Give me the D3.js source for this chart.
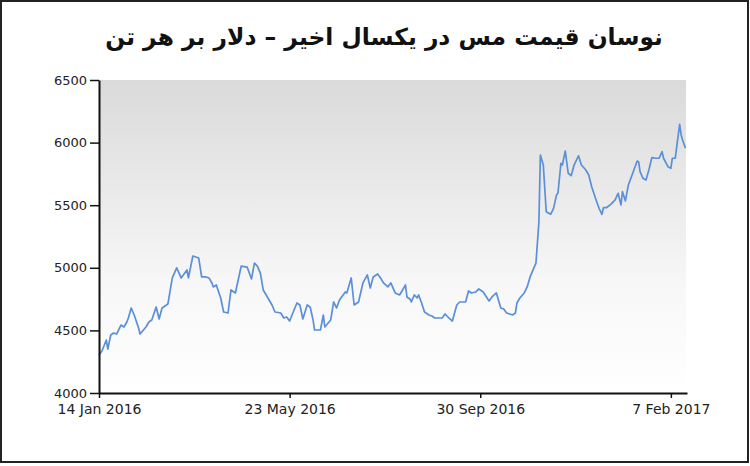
<!DOCTYPE html>
<html><head><meta charset="utf-8">
<script src="https://cdn.jsdelivr.net/npm/d3@7"></script>
<style>html,body{margin:0;padding:0;background:#fff;}svg{display:block;}</style>
</head><body>
<script>
const titleText = "نوسان قیمت مس در یکسال اخیر – دلار بر هر تن";
const dates = ["2016-01-14","2016-01-16","2016-01-19","2016-01-20","2016-01-22","2016-01-24","2016-01-26","2016-01-29","2016-01-31","2016-02-02","2016-02-03","2016-02-05","2016-02-07","2016-02-10","2016-02-11","2016-02-15","2016-02-17","2016-02-19","2016-02-22","2016-02-24","2016-02-26","2016-03-01","2016-03-04","2016-03-07","2016-03-10","2016-03-14","2016-03-15","2016-03-18","2016-03-22","2016-03-24","2016-03-27","2016-03-29","2016-03-31","2016-04-01","2016-04-03","2016-04-06","2016-04-08","2016-04-11","2016-04-13","2016-04-16","2016-04-20","2016-04-24","2016-04-27","2016-04-29","2016-05-01","2016-05-03","2016-05-05","2016-05-09","2016-05-11","2016-05-13","2016-05-17","2016-05-19","2016-05-21","2016-05-23","2016-05-26","2016-05-28","2016-05-30","2016-06-01","2016-06-04","2016-06-06","2016-06-08","2016-06-09","2016-06-13","2016-06-15","2016-06-16","2016-06-20","2016-06-22","2016-06-24","2016-06-26","2016-06-30","2016-07-01","2016-07-04","2016-07-06","2016-07-09","2016-07-12","2016-07-15","2016-07-17","2016-07-19","2016-07-22","2016-07-24","2016-07-26","2016-07-29","2016-07-31","2016-08-03","2016-08-06","2016-08-10","2016-08-11","2016-08-13","2016-08-14","2016-08-16","2016-08-18","2016-08-19","2016-08-21","2016-08-23","2016-08-26","2016-08-28","2016-08-30","2016-09-02","2016-09-04","2016-09-06","2016-09-08","2016-09-11","2016-09-14","2016-09-16","2016-09-20","2016-09-22","2016-09-24","2016-09-27","2016-09-29","2016-10-02","2016-10-06","2016-10-08","2016-10-11","2016-10-14","2016-10-16","2016-10-18","2016-10-22","2016-10-24","2016-10-25","2016-10-27","2016-10-30","2016-11-01","2016-11-03","2016-11-05","2016-11-07","2016-11-09","2016-11-10","2016-11-12","2016-11-14","2016-11-17","2016-11-19","2016-11-21","2016-11-22","2016-11-24","2016-11-25","2016-11-27","2016-11-29","2016-12-01","2016-12-03","2016-12-06","2016-12-08","2016-12-11","2016-12-13","2016-12-15","2016-12-18","2016-12-20","2016-12-22","2016-12-23","2016-12-25","2016-12-28","2016-12-31","2017-01-02","2017-01-04","2017-01-05","2017-01-07","2017-01-09","2017-01-12","2017-01-15","2017-01-16","2017-01-17","2017-01-19","2017-01-21","2017-01-23","2017-01-25","2017-01-28","2017-01-30","2017-02-01","2017-02-02","2017-02-05","2017-02-07","2017-02-08","2017-02-10","2017-02-11","2017-02-13","2017-02-14","2017-02-15","2017-02-17"];
const prices = [4303,4335,4423,4351,4463,4479,4471,4543,4527,4567,4599,4679,4623,4519,4471,4527,4567,4583,4687,4591,4679,4711,4919,5000,4919,4983,4919,5094,5078,4927,4927,4919,4879,4847,4863,4759,4647,4639,4823,4799,5014,5006,4911,5038,5014,4959,4823,4743,4703,4647,4639,4599,4607,4575,4663,4719,4703,4591,4703,4687,4583,4503,4503,4623,4527,4583,4727,4679,4743,4807,4799,4919,4703,4727,4879,4943,4839,4927,4951,4919,4879,4847,4879,4799,4783,4863,4767,4751,4727,4783,4759,4783,4719,4647,4623,4615,4599,4599,4599,4631,4607,4575,4703,4727,4727,4815,4799,4807,4831,4807,4735,4767,4799,4679,4671,4639,4623,4639,4719,4759,4799,4847,4927,4983,5038,5368,5901,5821,5448,5427,5475,5581,5597,5835,5821,5933,5755,5736,5821,5895,5821,5781,5741,5648,5542,5475,5427,5480,5480,5507,5542,5595,5502,5608,5534,5661,5755,5853,5847,5768,5715,5701,5781,5880,5875,5875,5928,5875,5808,5795,5875,5875,5967,6146,6061,6021,5955];
const yTicks = [4000,4500,5000,5500,6000,6500];
const xTickDates = ["2016-01-14","2016-05-23","2016-09-30","2017-02-07"];
const xTickLabels = ["14 Jan 2016","23 May 2016","30 Sep 2016","7 Feb 2017"];

const W = 750, H = 466;
const parse = d3.timeParse("%Y-%m-%d");
const data = dates.map((d,i)=>({date: parse(d), value: prices[i]}));

const svg = d3.select("body").append("svg").attr("width",W).attr("height",H);
svg.append("rect").attr("x",0).attr("y",0).attr("width",W).attr("height",H).attr("fill","#fff");
svg.append("rect").attr("x",1).attr("y",1).attr("width",747).attr("height",461)
  .attr("fill","none").attr("stroke","#222").attr("stroke-width",2);

const defs = svg.append("defs");
const grad = defs.append("linearGradient").attr("id","bg").attr("x1",0).attr("y1",0).attr("x2",0).attr("y2",1);
grad.append("stop").attr("offset","0%").attr("stop-color","#dadada");
grad.append("stop").attr("offset","65%").attr("stop-color","#f7f7f7");
grad.append("stop").attr("offset","100%").attr("stop-color","#ffffff");

const x = d3.scaleTime().domain([parse("2016-01-14"), parse("2017-02-18")]).range([99, 687]);
const y = d3.scaleLinear().domain([4000,6500]).range([393, 80]);

svg.append("rect").attr("x",99).attr("y",80).attr("width",587).attr("height",313).attr("fill","url(#bg)");

svg.append("text").attr("x",384).attr("y",45).attr("text-anchor","middle")
  .attr("font-family","DejaVu Sans").attr("font-weight","bold").attr("font-size",23.4)
  .attr("fill","#111").attr("direction","rtl").text(titleText);

const line = d3.line().x(d=>x(d.date)).y(d=>y(d.value));
svg.append("path").datum(data).attr("d",line).attr("fill","none")
  .attr("stroke","#5b8fd8").attr("stroke-width",1.7).attr("stroke-linejoin","round");

const yAxis = svg.append("g").attr("transform","translate(99,0)")
  .call(d3.axisLeft(y).tickValues(yTicks).tickFormat(d3.format("d")).tickSize(9).tickPadding(3).tickSizeOuter(0));
const xAxis = svg.append("g").attr("transform","translate(0,393)")
  .call(d3.axisBottom(x).tickValues(xTickDates.map(parse)).tickFormat((d,i)=>xTickLabels[i]).tickSize(5).tickPadding(6).tickSizeOuter(0));
[yAxis,xAxis].forEach(g=>{
  g.selectAll("path.domain").attr("stroke","#111").attr("stroke-width",2);
  g.selectAll(".tick line").attr("stroke","#111").attr("stroke-width",1.5);
  g.selectAll("text").attr("font-family","DejaVu Sans").attr("font-size",13).attr("fill","#222");
});
xAxis.selectAll("text").attr("font-size",14);
</script>
</body></html>
